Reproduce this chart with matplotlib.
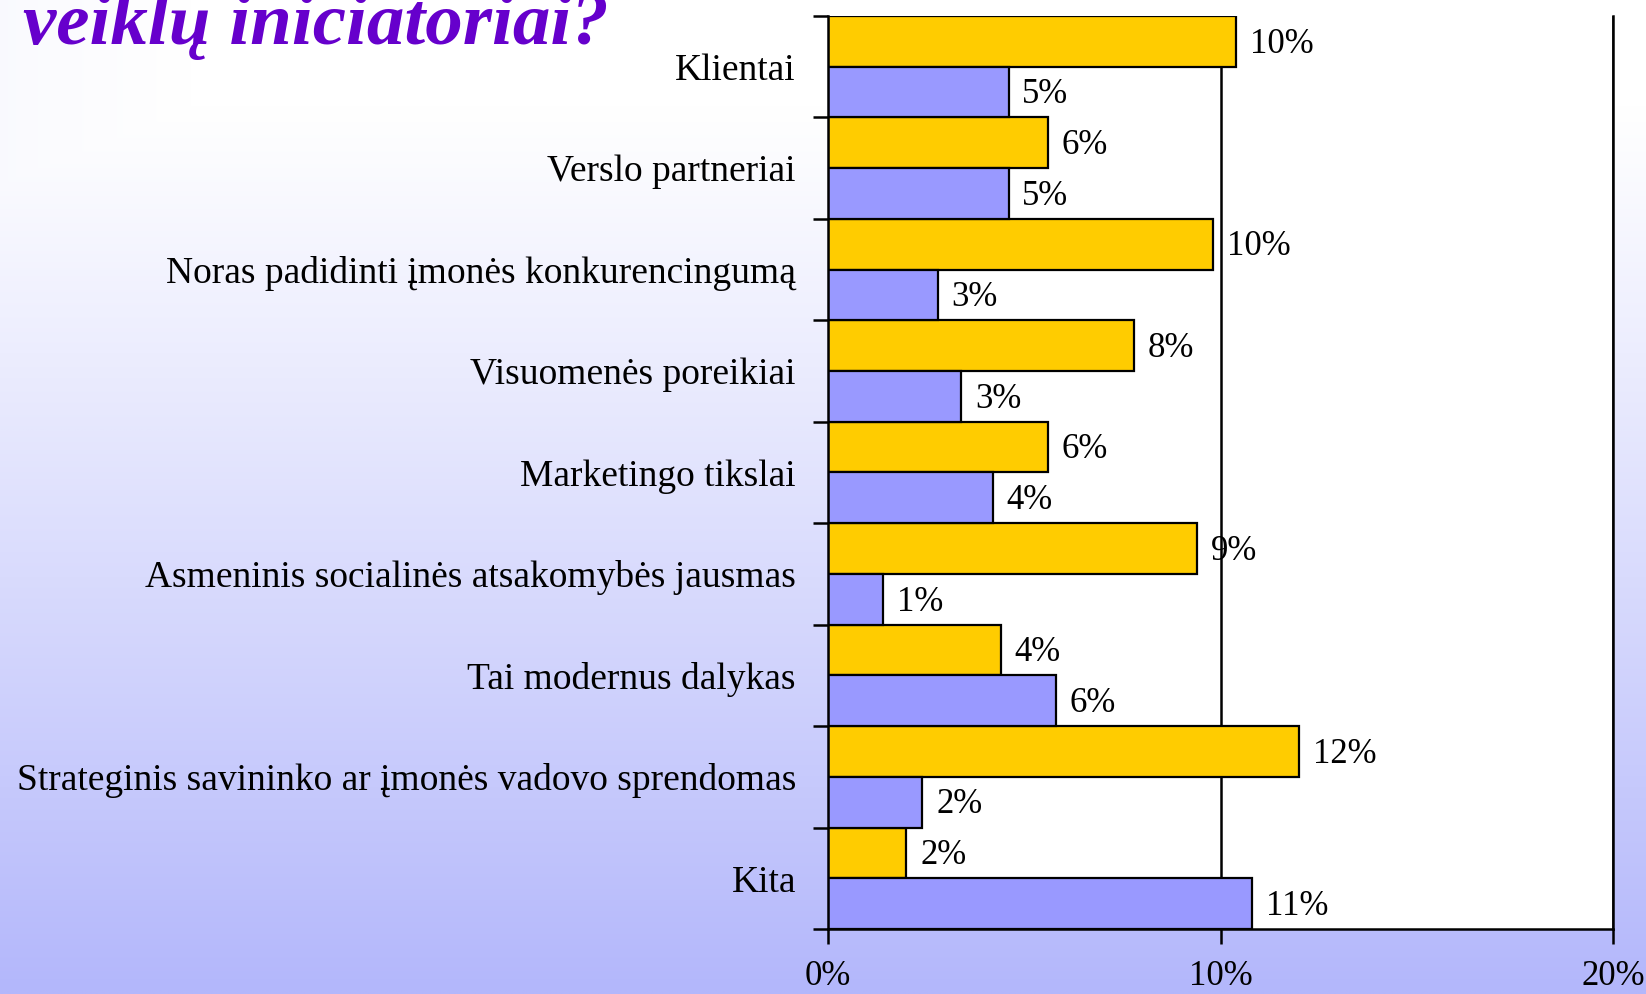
import numpy as np
import matplotlib
matplotlib.use("Agg")
import matplotlib.pyplot as plt
from matplotlib.colors import LinearSegmentedColormap

# categories top to bottom
categories = [
    "Klientai",
    "Verslo partneriai",
    "Noras padidinti įmonės konkurencingumą",
    "Visuomenės poreikiai",
    "Marketingo tikslai",
    "Asmeninis socialinės atsakomybės jausmas",
    "Tai modernus dalykas",
    "Strateginis savininko ar įmonės vadovo sprendomas",
    "Kita",
]
yellow_vals = [10.4, 5.6, 9.8, 7.8, 5.6, 9.4, 4.4, 12.0, 2.0]
blue_vals = [4.6, 4.6, 2.8, 3.4, 4.2, 1.4, 5.8, 2.4, 10.8]
xticks = [0, 10, 20]
xtick_labels = ["0%", "10%", "20%"]

YELLOW = "#FFCC00"
BLUE = "#9999FF"
serif = ["Liberation Serif", "DejaVu Serif"]

fig = plt.figure(figsize=(16.46, 9.94), dpi=100)

# slide background gradient (white at top -> lavender at bottom)
bg = fig.add_axes([0, 0, 1, 1], zorder=-10)
yy, xx = np.mgrid[0:1:400j, 0:1:400j]
t = np.clip((yy - 0.1) / 0.9, 0, 1) ** 1.1
t = np.maximum(t, np.clip(0.12 - xx, 0, 1) * 0.6)
cmap = LinearSegmentedColormap.from_list("slide", ["#ffffff", "#b3b7fb"])
bg.imshow(t, cmap=cmap, aspect="auto", extent=[0, 1, 1, 0], vmin=0, vmax=1)
bg.set_axis_off()

ax = fig.add_axes([0.503, 0.0654, 0.477, 0.9186])
ax.set_facecolor("white")

n = len(categories)
pos = np.arange(n)
bh = 0.5
ax.barh(pos - bh / 2, yellow_vals, height=bh, color=YELLOW, edgecolor="black", linewidth=1.6, zorder=3)
ax.barh(pos + bh / 2, blue_vals, height=bh, color=BLUE, edgecolor="black", linewidth=1.6, zorder=3)

for vals, off in ((yellow_vals, -bh / 2), (blue_vals, bh / 2)):
    for i, v in enumerate(vals):
        ax.annotate(f"{round(v)}%", (v, i + off), xytext=(10, -2), textcoords="offset points",
                    va="center", ha="left", fontsize=25, family=serif, zorder=4)

ax.set_xlim(0, 20)
ax.set_ylim(n - 0.5, -0.5)
ax.set_xticks(xticks)
ax.set_xticklabels(xtick_labels, family=serif, fontsize=25)
ax.set_yticks(pos)
ax.set_yticklabels(categories, family=serif, fontsize=27)
ax.set_yticks(np.arange(n + 1) - 0.5, minor=True)
ax.tick_params(axis="y", which="major", length=0, pad=23)
ax.tick_params(axis="y", which="minor", length=11, width=1.8, direction="out")
ax.tick_params(axis="x", which="major", length=11, width=1.8, direction="out", pad=11)

ax.xaxis.grid(True, color="black", linewidth=1.8, zorder=0)
ax.set_axisbelow(True)
ax.spines["top"].set_visible(False)
for s in ("left", "bottom", "right"):
    ax.spines[s].set_linewidth(1.8)
    ax.spines[s].set_zorder(5)

fig.text(0.014, 0.956, "veiklų iniciatoriai?", fontsize=54, fontweight="bold", fontstyle="italic",
         color="#6600CC", family=serif, va="baseline", ha="left")

fig.savefig("out.png", dpi=100)
